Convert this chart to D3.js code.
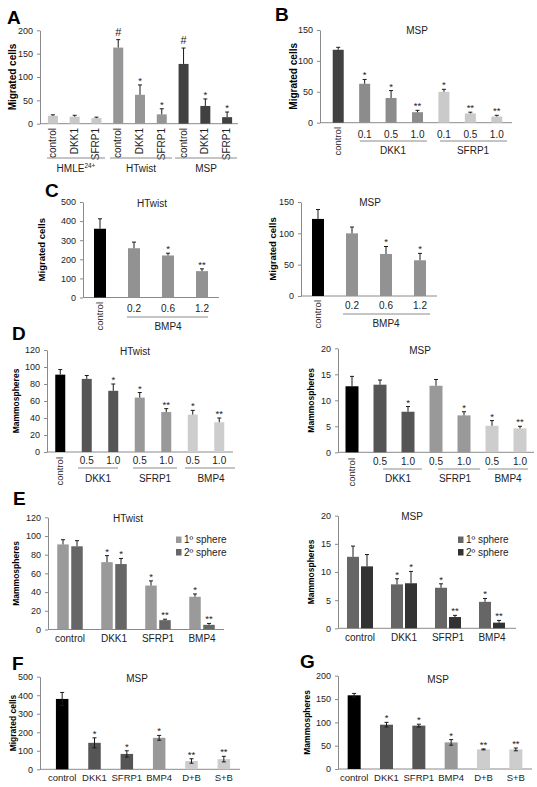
<!DOCTYPE html>
<html><head><meta charset="utf-8">
<script src="https://cdn.jsdelivr.net/npm/d3@7/dist/d3.min.js"></script>
<style>body{margin:0;background:#fff}svg{font-family:"Liberation Sans",Arial,sans-serif}</style>
</head><body><svg id="c" width="537" height="787"></svg>
<script>
// ---------- DATA ----------
const aCats = ["control","DKK1","SFRP1","control","DKK1","SFRP1","control","DKK1","SFRP1"];
const aVals = [17,15,12,163,62,20,128,38,14];
const aErrs = [2,3,2,17,21,12,34,15,11];
const aMarks = ["","","","#","*","*","#","*","*"];
const aGroups = ["HMLE","HTwist","MSP"];
const aTicks = [0,50,100,150,200];

const bCats = ["control","0.1","0.5","1.0","0.1","0.5","1.0"];
const bVals = [118,63,40,17,50,15,10];
const bErrs = [4,7,12,3,4,2,2];
const bMarks = ["","*","*","**","*","**","**"];
const bGroups = ["DKK1","SFRP1"];
const bTicks = [0,50,100,150];

const cCats = ["control","0.2","0.6","1.2"];
const cGroup = "BMP4";
const cHTwistVals = [360,258,220,138];
const cHTwistErrs = [52,32,12,12];
const cHTwistMarks = ["","","*","**"];
const cHTwistTicks = [0,100,200,300,400,500];
const cMspVals = [123,100,67,57];
const cMspErrs = [15,10,12,11];
const cMspMarks = ["","","*","*"];
const cMspTicks = [0,50,100,150];

const dCats = ["control","0.5","1.0","0.5","1.0","0.5","1.0"];
const dGroups = ["DKK1","SFRP1","BMP4"];
const dHTwistVals = [91,86,72,64,47,44,35];
const dHTwistErrs = [6,4,8,6,4,5,5];
const dHTwistMarks = ["","","*","*","**","*","**"];
const dHTwistTicks = [0,20,40,60,80,100,120];
const dMspVals = [12.7,13.0,7.8,12.8,7.1,5.1,4.6];
const dMspErrs = [1.9,0.9,1.0,1.2,0.7,1.0,0.4];
const dMspMarks = ["","","*","","*","*","**"];
const dMspTicks = [0,5,10,15,20];

const eCats = ["control","DKK1","SFRP1","BMP4"];
const eSeries = ["1º sphere","2º sphere"];
const eHTwist1 = [91,72,47,35];
const eHTwist1Errs = [5,7,5,3];
const eHTwist1Marks = ["","*","*","*"];
const eHTwist2 = [89,70,10,5];
const eHTwist2Errs = [6,6,1,1.5];
const eHTwist2Marks = ["","*","**","**"];
const eHTwistTicks = [0,20,40,60,80,100,120];
const eMsp1 = [12.7,7.8,7.2,4.7];
const eMsp1Errs = [1.9,1.0,0.7,0.6];
const eMsp1Marks = ["","*","*","*"];
const eMsp2 = [11.0,8.0,2.0,1.0];
const eMsp2Errs = [2.1,2.1,0.3,0.4];
const eMsp2Marks = ["","*","**","**"];
const eMspTicks = [0,5,10,15,20];

const fgCats = ["control","DKK1","SFRP1","BMP4","D+B","S+B"];
const fVals = [380,143,83,170,45,55];
const fErrs = [35,27,17,13,12,15];
const fMarks = ["","*","*","*","**","**"];
const fTicks = [0,100,200,300,400,500];
const gVals = [158,95,93,57,42,42];
const gErrs = [4,5,3,6,1,3];
const gMarks = ["","*","*","*","**","**"];
const gTicks = [0,50,100,150,200];

// ---------- STYLE ----------
const AX = "#8a8a8a", TXT = "#222";
const svg = d3.select("#c");

function letter(t, x, y) {
  svg.append("text").attr("x", x).attr("y", y).attr("font-size", 19).attr("font-weight", "bold").attr("fill", "#000").text(t);
}
function txt(t, x, y, fs, anchor) {
  return svg.append("text").attr("x", x).attr("y", y).attr("font-size", fs).attr("fill", TXT)
    .attr("text-anchor", anchor || "middle").text(t);
}

function panel(o) {
  const n = o.n;
  const step = (o.xr[1] - o.xr[0]) / n;
  const p = 1 - o.barW / step;
  const x = d3.scaleBand().domain(d3.range(n)).range(o.xr).paddingInner(p).paddingOuter(p / 2);
  const y = d3.scaleLinear().domain([0, o.ticks[o.ticks.length - 1]]).range([o.y0, o.yTop]);
  const g = svg.append("g");
  const ax = g.append("g").attr("transform", `translate(${o.axX},0)`)
    .call(d3.axisLeft(y).tickValues(o.ticks).tickSize(3).tickSizeOuter(0).tickPadding(4));
  ax.attr("font-family", null).attr("font-size", null);
  ax.select(".domain").attr("stroke", AX);
  ax.selectAll(".tick line").attr("stroke", AX);
  ax.selectAll(".tick text").attr("font-size", o.tickFs || 9).attr("fill", TXT);
  g.append("line").attr("x1", o.axX).attr("x2", o.axEnd).attr("y1", y(0)).attr("y2", y(0)).attr("stroke", AX);
  if (o.title) txt(o.title, o.tx, o.ty, 10);
  if (o.ylabel) {
    svg.append("text").attr("transform", `translate(${o.ylX},${(y(0) + y.range()[1]) / 2}) rotate(-90)`)
      .attr("text-anchor", "middle").attr("font-size", o.ylFs || 9.5).attr("font-weight", "bold").attr("fill", "#000")
      .text(o.ylabel);
  }
  return { x, y, g, cx: i => x(i) + x.bandwidth() / 2 };
}

function bars(P, vals, errs, marks, colors, opt) {
  opt = opt || {};
  const w = opt.w || P.x.bandwidth();
  const off = opt.off || 0;
  const cx = i => P.cx(i) + off;
  const y = P.y;
  P.g.selectAll(null).data(vals).join("rect")
    .attr("x", (d, i) => cx(i) - w / 2).attr("width", w)
    .attr("y", d => y(d)).attr("height", d => y(0) - y(d))
    .attr("fill", (d, i) => colors[i]);
  const eb = P.g.append("g").attr("stroke", "#1a1a1a").attr("stroke-width", 1);
  vals.forEach((v, i) => {
    const top = y(v + errs[i]);
    const bot = opt.two ? y(v - errs[i]) : y(v);
    eb.append("line").attr("x1", cx(i)).attr("x2", cx(i)).attr("y1", top).attr("y2", bot);
    eb.append("line").attr("x1", cx(i) - 2).attr("x2", cx(i) + 2).attr("y1", top).attr("y2", top);
    if (opt.two) eb.append("line").attr("x1", cx(i) - 2).attr("x2", cx(i) + 2).attr("y1", bot).attr("y2", bot);
    if (marks[i]) {
      const isHash = marks[i] === "#";
      P.g.append("text").attr("x", cx(i)).attr("y", top - (isHash ? 4 : 1))
        .attr("text-anchor", "middle").attr("font-size", isHash ? 11 : 9.5).attr("fill", TXT).text(marks[i]);
    }
  });
}
function rotLabel(t, x, y, fs) {
  svg.append("text").attr("transform", `translate(${x + 3},${y}) rotate(-90)`).attr("text-anchor", "end")
    .attr("font-size", fs || 9.5).attr("fill", TXT).text(t);
}
function gline(x1, x2, y) {
  svg.append("line").attr("x1", x1).attr("x2", x2).attr("y1", y).attr("y2", y).attr("stroke", AX);
}

// ---------- A ----------
letter("A", 7, 24);
{
  const P = panel({ n: aVals.length, xr: [42, 238], barW: 10, axX: 40, axEnd: 238, y0: 123.7, yTop: 30.3, ticks: aTicks, ylabel: "Migrated cells", ylX: 16, ylFs: 10 });
  const cols = ["#c8c8c8","#c8c8c8","#c8c8c8","#969696","#969696","#969696","#414141","#414141","#414141"];
  bars(P, aVals, aErrs, aMarks, cols);
  aCats.forEach((c, i) => rotLabel(c, P.cx(i), 128, 10));
  gline(47, 105, 158); gline(110, 172, 158); gline(175, 237, 158);
  const hm = txt(aGroups[0], 76, 172, 10);
  hm.append("tspan").attr("font-size", 6.5).attr("dy", -4).text("24+");
  txt(aGroups[1], 141, 172, 10);
  txt(aGroups[2], 206, 172, 10);
}
// ---------- B ----------
letter("B", 275, 21);
{
  const P = panel({ n: bVals.length, xr: [325, 510], barW: 11, axX: 320, axEnd: 512, y0: 122.7, yTop: 30, ticks: bTicks, title: "MSP", tx: 417, ty: 34, ylabel: "Migrated cells", ylX: 297, ylFs: 10 });
  const cols = ["#414141","#8c8c8c","#8c8c8c","#8c8c8c","#cacaca","#cacaca","#cacaca"];
  bars(P, bVals, bErrs, bMarks, cols);
  rotLabel(bCats[0], P.cx(0), 127, 9.5);
  bCats.slice(1).forEach((c, i) => txt(c, P.cx(i + 1), 138, 10));
  gline(360, 427, 141); gline(440, 507, 141);
  txt(bGroups[0], 393, 154, 10); txt(bGroups[1], 473, 154, 10);
}
// ---------- C ----------
letter("C", 45, 197);
{
  const P = panel({ n: 4, xr: [83, 219], barW: 12, axX: 83, axEnd: 219, y0: 297.5, yTop: 202, ticks: cHTwistTicks, title: "HTwist", tx: 152, ty: 207, ylabel: "Migrated cells", ylX: 45, ylFs: 9.5 });
  bars(P, cHTwistVals, cHTwistErrs, cHTwistMarks, ["#000","#929292","#929292","#929292"]);
  rotLabel(cCats[0], P.cx(0), 302, 9.5);
  cCats.slice(1).forEach((c, i) => txt(c, P.cx(i + 1), 312, 10));
  gline(127, 208, 317); txt(cGroup, 168, 330, 10);
}
{
  const P = panel({ n: 4, xr: [301, 437], barW: 12, axX: 301, axEnd: 437, y0: 296, yTop: 202, ticks: cMspTicks, title: "MSP", tx: 370, ty: 206, ylabel: "Migrated cells", ylX: 276, ylFs: 9.5 });
  bars(P, cMspVals, cMspErrs, cMspMarks, ["#000","#929292","#929292","#929292"]);
  rotLabel(cCats[0], P.cx(0), 300, 9.5);
  cCats.slice(1).forEach((c, i) => txt(c, P.cx(i + 1), 309, 10));
  gline(343, 430, 314); txt(cGroup, 386, 327, 10);
}
// ---------- D ----------
letter("D", 12, 340);
{
  const P = panel({ n: 7, xr: [47, 232.5], barW: 10, axX: 47, axEnd: 233, y0: 452, yTop: 350, ticks: dHTwistTicks, title: "HTwist", tx: 135, ty: 355, ylabel: "Mammospheres", ylX: 19, ylFs: 8.5 });
  const cols = ["#000","#555","#555","#999","#999","#cdcdcd","#cdcdcd"];
  bars(P, dHTwistVals, dHTwistErrs, dHTwistMarks, cols);
  rotLabel(dCats[0], P.cx(0), 457, 9.5);
  dCats.slice(1).forEach((c, i) => txt(c, P.cx(i + 1), 464, 10));
  gline(78, 118, 468); gline(133, 177, 468); gline(185, 235, 468);
  txt(dGroups[0], 98, 482, 10); txt(dGroups[1], 155, 482, 10); txt(dGroups[2], 211, 482, 10);
}
{
  const P = panel({ n: 7, xr: [338, 534], barW: 13, axX: 338, axEnd: 534, y0: 452.3, yTop: 348.3, ticks: dMspTicks, title: "MSP", tx: 420, ty: 354, ylabel: "Mammospheres", ylX: 314, ylFs: 8.5 });
  const cols = ["#000","#555","#555","#999","#999","#cdcdcd","#cdcdcd"];
  bars(P, dMspVals, dMspErrs, dMspMarks, cols);
  rotLabel(dCats[0], P.cx(0), 458, 9.5);
  dCats.slice(1).forEach((c, i) => txt(c, P.cx(i + 1), 465, 10));
  gline(383, 422, 469); gline(438, 480, 469); gline(488, 528, 469);
  txt(dGroups[0], 398, 482, 10); txt(dGroups[1], 455, 482, 10); txt(dGroups[2], 508, 482, 10);
}
// ---------- E ----------
letter("E", 13, 505);
function legend(x, y, cols) {
  eSeries.forEach((s, i) => {
    svg.append("rect").attr("x", x).attr("y", y + i * 12.5 - 6.5).attr("width", 5.5).attr("height", 6.5).attr("fill", cols[i]);
    txt(s, x + 8, y + i * 12.5, 10, "start");
  });
}
{
  const P = panel({ n: 4, xr: [48, 224], barW: 12, axX: 48, axEnd: 224, y0: 629.5, yTop: 517.3, ticks: eHTwistTicks, title: "HTwist", tx: 128, ty: 522, ylabel: "Mammospheres", ylX: 19, ylFs: 8.5 });
  bars(P, eHTwist1, eHTwist1Errs, eHTwist1Marks, eCats.map(() => "#9a9a9a"), { w: 11.5, off: -7 });
  bars(P, eHTwist2, eHTwist2Errs, eHTwist2Marks, eCats.map(() => "#666"), { w: 11.5, off: 7 });
  eCats.forEach((c, i) => txt(c, P.cx(i), 642, 10));
  legend(176, 543, ["#9a9a9a", "#666"]);
}
{
  const P = panel({ n: 4, xr: [338, 514], barW: 12, axX: 338, axEnd: 516, y0: 628.3, yTop: 515.7, ticks: eMspTicks, title: "MSP", tx: 412, ty: 520, ylabel: "Mammospheres", ylX: 314, ylFs: 8.5 });
  bars(P, eMsp1, eMsp1Errs, eMsp1Marks, eCats.map(() => "#666"), { w: 12, off: -7 });
  bars(P, eMsp2, eMsp2Errs, eMsp2Marks, eCats.map(() => "#333"), { w: 12, off: 7 });
  eCats.forEach((c, i) => txt(c, P.cx(i), 641, 10));
  legend(458, 543, ["#666", "#333"]);
}
// ---------- F ----------
letter("F", 12, 670);
{
  const P = panel({ n: 6, xr: [46, 240], barW: 12.5, axX: 40, axEnd: 240, y0: 769.3, yTop: 676.7, ticks: fTicks, title: "MSP", tx: 137, ty: 682, ylabel: "Migrated cells", ylX: 16, ylFs: 8.5 });
  const cols = ["#000","#555","#555","#999","#cdcdcd","#cdcdcd"];
  bars(P, fVals, fErrs, fMarks, cols, { two: true });
  fgCats.forEach((c, i) => txt(c, P.cx(i), 781, 9.5));
}
// ---------- G ----------
letter("G", 300, 668);
{
  const P = panel({ n: 6, xr: [338, 532], barW: 13, axX: 338, axEnd: 532, y0: 769, yTop: 675.7, ticks: gTicks, title: "MSP", tx: 438, ty: 683, ylabel: "Mammospheres", ylX: 310, ylFs: 8.5 });
  const cols = ["#000","#555","#555","#999","#cdcdcd","#cdcdcd"];
  bars(P, gVals, gErrs, gMarks, cols, { two: true });
  fgCats.forEach((c, i) => txt(c, P.cx(i), 781, 9.5));
}
</script></body></html>
